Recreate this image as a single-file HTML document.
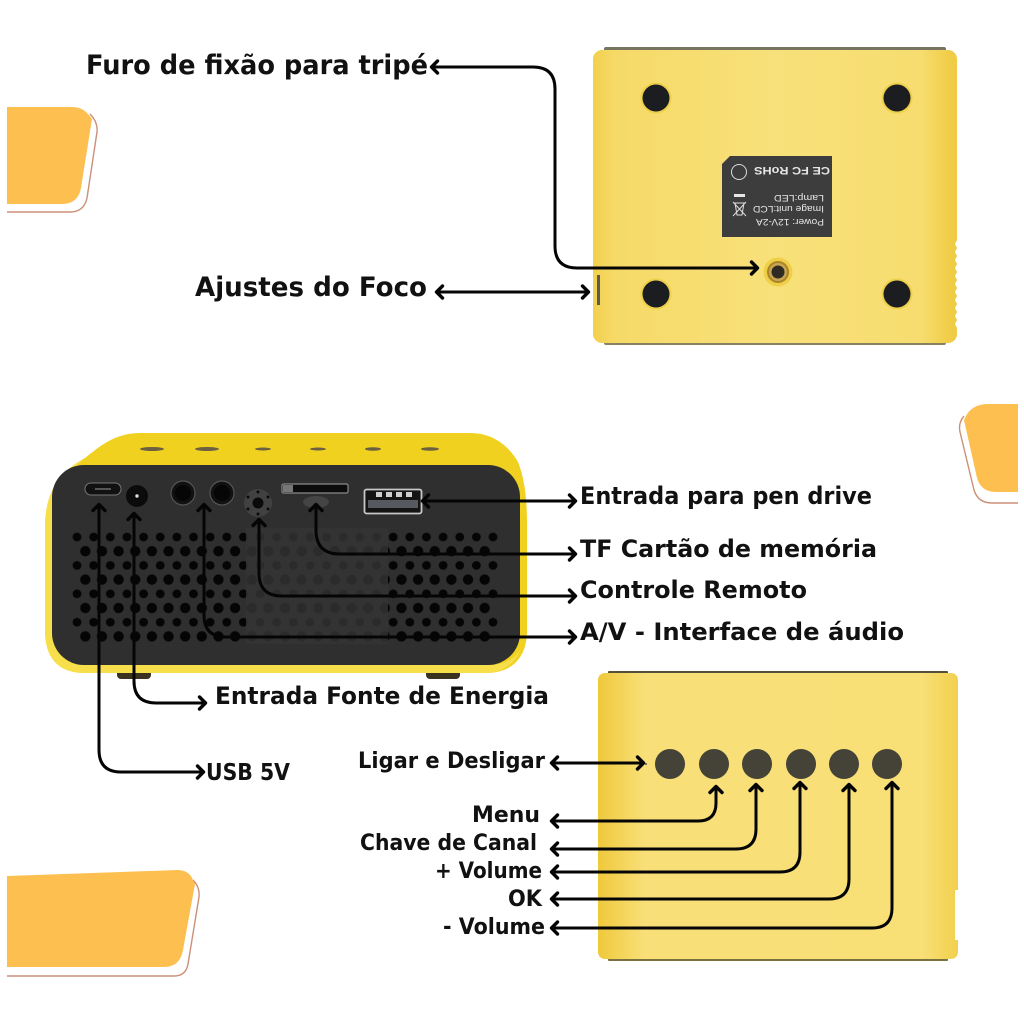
<!DOCTYPE html>
<html lang="pt">
<head>
<meta charset="utf-8">
<title>Projetor</title>
<style>
html,body{margin:0;padding:0;background:#fff;width:1024px;height:1024px;overflow:hidden}
svg{display:block}
text{font-family:"DejaVu Sans","Liberation Sans",sans-serif;font-weight:700;fill:#111}
.lb{font-family:"Liberation Sans",sans-serif;font-weight:400;fill:#e6e6e6}
</style>
</head>
<body>
<svg width="1024" height="1024" viewBox="0 0 1024 1024" xmlns="http://www.w3.org/2000/svg">
<defs>
<marker id="a" markerUnits="userSpaceOnUse" markerWidth="20" markerHeight="20" refX="10" refY="10" orient="auto-start-reverse">
<path d="M4.5 4 L10.5 10 L4.5 16" fill="none" stroke="#050505" stroke-width="3.4" stroke-linecap="round" stroke-linejoin="round"/>
</marker>
<linearGradient id="gTop" x1="0" x2="1" y1="0" y2="0">
<stop offset="0" stop-color="#f2d04e"/><stop offset=".06" stop-color="#f6da68"/><stop offset=".5" stop-color="#f8e07a"/><stop offset=".9" stop-color="#f7dd70"/><stop offset=".97" stop-color="#f1cf4c"/><stop offset="1" stop-color="#efca42"/>
</linearGradient>
<linearGradient id="gSide" x1="0" x2="1" y1="0" y2="0">
<stop offset="0" stop-color="#eec93c"/><stop offset=".05" stop-color="#f3d253"/><stop offset=".13" stop-color="#f8df78"/><stop offset=".9" stop-color="#f8df76"/><stop offset="1" stop-color="#f2d04e"/>
</linearGradient>
<pattern id="pOdd" patternUnits="userSpaceOnUse" x="68.7" y="529.9" width="16.64" height="28.4">
<circle cx="8.32" cy="7.1" r="4.4" fill="#050505"/>
</pattern>
<pattern id="pEven" patternUnits="userSpaceOnUse" x="77" y="544.1" width="16.64" height="28.4">
<circle cx="8.32" cy="7.1" r="5.200" fill="#050505"/>
</pattern>
</defs>

<rect width="1024" height="1024" fill="#fff"/>

<!-- decorative shapes -->
<path d="M7 212 H70 Q84 212 87 198 L97 132 Q98 122 90 114" fill="none" stroke="#cc8f78" stroke-width="1.4"/>
<path d="M7 107 H72 Q82 107 88 114 L92 119 L81 188 Q78 204 62 204 H7 Z" fill="#fdc050"/>
<path d="M1018 503 H992 Q978 503 974 490 L960 432 Q958 423 964 416" fill="none" stroke="#cc8f78" stroke-width="1.4"/>
<path d="M1018 404 H988 Q974 404 967 414 L964 420 L977 478 Q981 492 996 492 H1018 Z" fill="#fdc050"/>
<path d="M7 976 H174 Q186 976 188 964 L199 897 Q200 887 193 880" fill="none" stroke="#cc8f78" stroke-width="1.4"/>
<path d="M7 876 L178 870 Q186 870 191 876 L195 884 L183 950 Q180 967 164 967 H7 Z" fill="#fdc050"/>

<!-- bottom view device -->
<rect x="604" y="47" width="342" height="5" rx="2" fill="#77745f"/>
<rect x="604" y="341" width="342" height="4" rx="2" fill="#8a8160"/>
<rect x="593" y="50" width="364" height="293" rx="9" fill="url(#gTop)"/>
<rect x="597" y="275" width="3" height="30" fill="#5a5a50"/>
<path d="M957 240 l-2 4 2 4 -2 4 2 4 -2 4 2 4 -2 4 2 4 -2 4 2 4 -2 4 2 4 -2 4 2 4 -2 4 2 4 -2 4 2 4 -2 4 2 4 -2 4 2 4 h3 V240 Z" fill="#fff"/>
<g fill="#eed04a">
<circle cx="656" cy="98" r="15.500"/><circle cx="897" cy="98" r="15.500"/><circle cx="656" cy="294" r="15.500"/><circle cx="897" cy="294" r="15.500"/>
</g>
<g fill="#1c1d20">
<circle cx="656" cy="98" r="13.500"/><circle cx="897" cy="98" r="13.500"/><circle cx="656" cy="294" r="13.500"/><circle cx="897" cy="294" r="13.500"/>
</g>
<path d="M730 156 H832 V237 H722 V164 Z" fill="#3d3d3d"/>
<g transform="rotate(180 777 196.500)">
<text class="lb" x="730" y="174" font-size="9.500" textLength="68" lengthAdjust="spacingAndGlyphs" style="fill:#e6e6e6;font-weight:400;font-family:'Liberation Sans',sans-serif">Power: 12V-2A</text>
<text class="lb" x="730" y="187" font-size="9.500" textLength="71" lengthAdjust="spacingAndGlyphs" style="fill:#e6e6e6;font-weight:400;font-family:'Liberation Sans',sans-serif">Image unit:LCD</text>
<text class="lb" x="730" y="198" font-size="9.500" textLength="50" lengthAdjust="spacingAndGlyphs" style="fill:#e6e6e6;font-weight:400;font-family:'Liberation Sans',sans-serif">Lamp:LED</text>
<text class="lb" x="724" y="226" font-size="11" textLength="76" lengthAdjust="spacingAndGlyphs" style="fill:#e6e6e6;font-weight:700;font-family:'Liberation Sans',sans-serif">CE FC RoHS</text>
</g>
<circle cx="739" cy="172" r="7.500" fill="none" stroke="#ddd" stroke-width="1"/>
<path d="M733 202 L746 216 M746 202 L733 216 M735 203 H744 L742 215 H737 Z" fill="none" stroke="#ddd" stroke-width="1"/>
<rect x="734" y="194" width="11" height="3" fill="#e6e6e6"/>
<circle cx="778" cy="272" r="14.500" fill="#efcf45"/>
<circle cx="778" cy="272" r="11" fill="#a8842a"/>
<circle cx="778" cy="272" r="9" fill="#c9a550"/>
<circle cx="778" cy="272" r="6.500" fill="#2f2a22"/>

<!-- back view device -->
<rect x="117" y="668" width="34" height="11" rx="4" fill="#3a3320"/>
<rect x="426" y="668" width="34" height="11" rx="4" fill="#3a3320"/>
<path d="M45 525 C46 490 60 472 85 458 C100 446 115 433 140 433 H470 C495 433 510 448 518 462 C525 480 527 500 527 525 V630 C527 660 510 673 485 673 H85 C60 673 45 660 45 630 Z" fill="#f1d11f"/>
<path d="M45 525 C46 490 60 472 85 458 C65 475 52 495 52 525 V625 C52 650 70 665 90 665 H490 C505 665 515 658 520 650 C515 665 500 673 485 673 H85 C60 673 45 660 45 630 Z" fill="#f6df4a"/>
<g fill="#6b6040">
<ellipse cx="152" cy="449" rx="12" ry="2"/><ellipse cx="207" cy="449" rx="12" ry="2"/><ellipse cx="263" cy="449" rx="8" ry="1.500"/><ellipse cx="318" cy="449" rx="8" ry="1.500"/><ellipse cx="373" cy="449" rx="8" ry="1.700"/><ellipse cx="430" cy="449" rx="9" ry="1.700"/>
</g>
<rect x="52" y="465" width="468" height="200" rx="32" fill="#2f2f2f"/>
<rect x="72" y="530" width="426" height="113" fill="url(#pOdd)"/>
<rect x="80" y="544" width="410" height="100" fill="url(#pEven)"/>
<rect x="246" y="528" width="142" height="116" fill="#353535" opacity=".82"/>
<!-- ports -->
<rect x="85" y="483" width="36" height="12" rx="6" fill="#111" stroke="#777" stroke-width="1"/>
<rect x="95" y="488" width="16" height="2" fill="#555"/>
<circle cx="137" cy="496" r="11" fill="#0b0b0b"/><circle cx="137" cy="496" r="1.700" fill="#ddd"/>
<circle cx="183" cy="493" r="12" fill="#111" stroke="#555" stroke-width="1.200"/><circle cx="183" cy="493" r="8" fill="#060606"/>
<circle cx="222" cy="493" r="12" fill="#111" stroke="#555" stroke-width="1.200"/><circle cx="222" cy="493" r="8" fill="#060606"/>
<circle cx="258" cy="503" r="14" fill="#414141"/>
<circle cx="258" cy="503" r="5.500" fill="#0a0a0a"/>
<g fill="#0a0a0a"><circle cx="258" cy="492" r="1.500"/><circle cx="248" cy="497" r="1.500"/><circle cx="268" cy="497" r="1.500"/><circle cx="248" cy="509" r="1.500"/><circle cx="268" cy="509" r="1.500"/><circle cx="258" cy="514" r="1.500"/></g>
<rect x="282" y="484" width="66" height="9" rx="1.500" fill="#0b0b0b" stroke="#8a8a8a" stroke-width="1.200"/>
<rect x="283" y="485" width="10" height="7" fill="#777"/>
<ellipse cx="316" cy="502" rx="13" ry="6" fill="#444"/>
<rect x="364.500" y="489.500" width="57" height="24" rx="2" fill="#141414" stroke="#c8c8c8" stroke-width="1.800"/>
<rect x="368" y="500" width="50" height="8" fill="#565a60"/>
<g fill="#cfcfcf"><rect x="376" y="492" width="6" height="5"/><rect x="386" y="492" width="6" height="5"/><rect x="396" y="492" width="6" height="5"/><rect x="406" y="492" width="6" height="5"/></g>

<!-- side view device -->
<rect x="608" y="671" width="340" height="3" rx="1" fill="#55503a"/>
<rect x="608" y="958" width="340" height="3" rx="1" fill="#7b7040"/>
<rect x="598" y="673" width="360" height="286" rx="7" fill="url(#gSide)"/>
<rect x="955" y="890" width="4" height="50" fill="#fff"/>
<g fill="#454238">
<circle cx="670" cy="764" r="15"/><circle cx="714" cy="764" r="15"/><circle cx="757" cy="764" r="15"/><circle cx="801" cy="764" r="15"/><circle cx="844" cy="764" r="15"/><circle cx="887" cy="764" r="15"/>
</g>
<circle cx="646" cy="764" r="1" fill="#555"/>

<!-- connectors -->
<g fill="none" stroke="#050505" stroke-width="3" stroke-linecap="round" stroke-linejoin="round">
<path marker-start="url(#a)" marker-end="url(#a)" d="M432 67 H533 Q555 67 555 89 V246 Q555 268 577 268 H757"/>
<path marker-start="url(#a)" marker-end="url(#a)" d="M437 292 H588"/>
<path marker-start="url(#a)" marker-end="url(#a)" d="M423 501 H575"/>
<path marker-start="url(#a)" marker-end="url(#a)" d="M316 505 V530 Q316 554 340 554 H575"/>
<path marker-start="url(#a)" marker-end="url(#a)" d="M259 520 V573 Q259 596 282 596 H575"/>
<path marker-start="url(#a)" marker-end="url(#a)" d="M204 505 V615 Q204 637 226 637 H575"/>
<path marker-start="url(#a)" marker-end="url(#a)" d="M134 514 V681 Q134 703 156 703 H205"/>
<path marker-start="url(#a)" marker-end="url(#a)" d="M99 505 V750 Q99 772 121 772 H203"/>
<path marker-start="url(#a)" marker-end="url(#a)" d="M552 763 H643"/>
<path marker-start="url(#a)" marker-end="url(#a)" d="M552 821 H698 Q716 821 716 803 V787"/>
<path marker-start="url(#a)" marker-end="url(#a)" d="M552 849 H736 Q756 849 756 829 V785"/>
<path marker-start="url(#a)" marker-end="url(#a)" d="M552 872 H780 Q800 872 800 852 V783"/>
<path marker-start="url(#a)" marker-end="url(#a)" d="M552 899 H829 Q849 899 849 879 V785"/>
<path marker-start="url(#a)" marker-end="url(#a)" d="M552 928 H872 Q892 928 892 908 V783"/>
</g>

<!-- labels -->
<text x="86" y="74" font-size="27" textLength="342" lengthAdjust="spacingAndGlyphs">Furo de fixão para tripé</text>
<text x="195" y="296" font-size="27" textLength="232" lengthAdjust="spacingAndGlyphs">Ajustes do Foco</text>
<text x="580" y="504" font-size="24" textLength="292" lengthAdjust="spacingAndGlyphs">Entrada para pen drive</text>
<text x="580" y="557" font-size="24" textLength="297" lengthAdjust="spacingAndGlyphs">TF Cartão de memória</text>
<text x="580" y="598" font-size="24" textLength="227" lengthAdjust="spacingAndGlyphs">Controle Remoto</text>
<text x="580" y="640" font-size="24" textLength="324" lengthAdjust="spacingAndGlyphs">A/V - Interface de áudio</text>
<text x="215" y="704" font-size="24" textLength="334" lengthAdjust="spacingAndGlyphs">Entrada Fonte de Energia</text>
<text x="206" y="780" font-size="23" textLength="84" lengthAdjust="spacingAndGlyphs">USB 5V</text>
<text x="358" y="768" font-size="22" textLength="187" lengthAdjust="spacingAndGlyphs">Ligar e Desligar</text>
<text x="472" y="822" font-size="22" textLength="68" lengthAdjust="spacingAndGlyphs">Menu</text>
<text x="360" y="850" font-size="22" textLength="177" lengthAdjust="spacingAndGlyphs">Chave de Canal</text>
<text x="435" y="878" font-size="22" textLength="107" lengthAdjust="spacingAndGlyphs">+ Volume</text>
<text x="508" y="906" font-size="22" textLength="34" lengthAdjust="spacingAndGlyphs">OK</text>
<text x="443" y="934" font-size="22" textLength="102" lengthAdjust="spacingAndGlyphs">- Volume</text>
</svg>
</body>
</html>
